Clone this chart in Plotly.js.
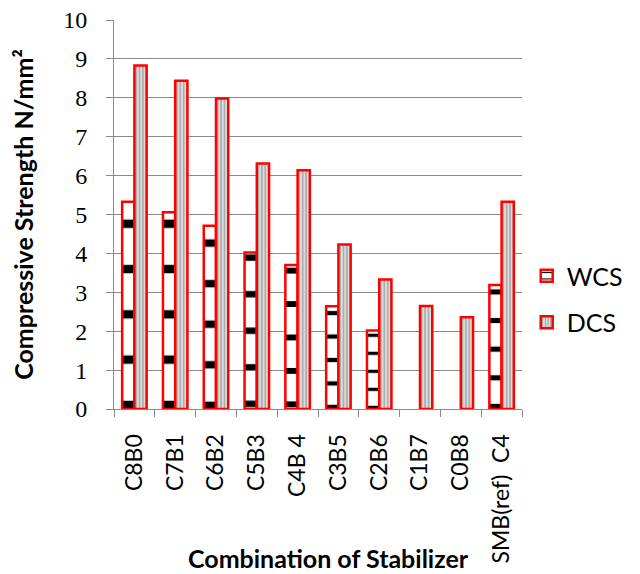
<!DOCTYPE html>
<html>
<head>
<meta charset="utf-8">
<script src="https://cdn.plot.ly/plotly-3.0.1.min.js"></script>
<style>
  html, body { margin: 0; padding: 0; background: #ffffff; }
  #chart { width: 640px; height: 574px; }
</style>
</head>
<body>
<div id="chart"></div>
<script>
// Compressive strength of stabilised blocks, wet (WCS) and dry (DCS)
const categories = ['C8B0', 'C7B1', 'C6B2', 'C5B3', 'C4B 4', 'C3B5', 'C2B6', 'C1B7', 'C0B8', 'SMB(ref)\u00a0 C4'];
const wcsValues = [5.33, 5.06, 4.71, 4.02, 3.70, 2.64, 2.02, null, null, 3.19];
const dcsValues = [8.83, 8.44, 7.98, 6.31, 6.14, 4.23, 3.33, 2.65, 2.36, 5.33];
const seriesNames = ['WCS', 'DCS'];
const yTicks = [0, 1, 2, 3, 4, 5, 6, 7, 8, 9, 10];

const W = 640, H = 574;
const margin = { l: 114, r: 93, t: 20, b: 165, pad: 0 };
const plotW = W - margin.l - margin.r;
const plotH = H - margin.t - margin.b;
const yMax = 10;

const RED = '#ff0000';
const GRID = '#8a8a8a';
const SANS = 'Lato, "Open Sans", sans-serif';
const SERIF = '"Liberation Serif", "Times New Roman", serif';

// Horizontal stripe fill for the WCS bars: about five dashes per bar,
// spaced in proportion to the bar height, first dash resting on the base.
const SOL = 0.18;
function stripeSize(v) {
  if (v == null) return 10;
  const h = v / yMax * plotH;
  const target = h * 0.232;
  let best = target, bestErr = Infinity;
  for (let k = 1; k < 90; k++) {
    for (const f of [0, 0.05, 0.1, 0.15, 0.2, 0.25, 0.3]) {
      const s = plotH / (k + 0.5 + SOL / 2 + f);
      const t = SOL * s;
      const d0 = plotH - (k + 0.5) * s;
      const top = d0 + 4 * s + t / 2;
      if (top > h - 1) continue;
      const err = Math.abs(s - target);
      if (err < bestErr) { bestErr = err; best = s; }
    }
  }
  return best;
}

const traces = [
  {
    type: 'bar',
    name: seriesNames[0],
    x: categories,
    y: wcsValues,
    legendgroup: 'a',
    marker: {
      color: '#ffffff',
      line: { color: RED, width: 2.5 },
      pattern: {
        shape: '-',
        fgcolor: '#000000',
        bgcolor: '#ffffff',
        fillmode: 'replace',
        size: wcsValues.map(stripeSize),
        solidity: SOL
      }
    },
    hoverinfo: 'x+y+name'
  },
  {
    type: 'bar',
    name: seriesNames[1],
    x: categories,
    y: dcsValues,
    legendgroup: 'b',
    marker: {
      color: '#dadada',
      line: { color: RED, width: 2.5 },
      pattern: {
        shape: '|',
        fgcolor: '#9a9a9a',
        bgcolor: '#dcdcdc',
        fillmode: 'replace',
        size: 3.4,
        solidity: 0.35
      }
    },
    hoverinfo: 'x+y+name'
  }
];

const layout = {
  width: W,
  height: H,
  margin: margin,
  paper_bgcolor: '#ffffff',
  plot_bgcolor: '#ffffff',
  barmode: 'group',
  bargap: 0.4,
  bargroupgap: 0,
  showlegend: true,
  legend: {
    x: 1.0 + 5 / plotW,
    xanchor: 'left',
    y: (plotH - (299 - margin.t)) / plotH,
    yanchor: 'middle',
    traceorder: 'grouped',
    tracegroupgap: 11,
    itemwidth: 30,
    entrywidth: 40,
    entrywidthmode: 'pixels',
    font: { family: SANS, size: 25, color: '#000000' },
    bgcolor: 'rgba(0,0,0,0)',
    borderwidth: 0
  },
  xaxis: {
    type: 'category',
    tickson: 'boundaries',
    ticks: 'outside',
    ticklen: 7,
    tickwidth: 1,
    tickcolor: GRID,
    tickangle: -90,
    ticklabelstandoff: 15,
    tickfont: { family: SANS, size: 23, color: '#000000' },
    showline: true,
    linecolor: GRID,
    linewidth: 1,
    showgrid: false,
    zeroline: false,
    automargin: false,
    fixedrange: true
  },
  yaxis: {
    range: [0, yMax],
    tickvals: yTicks,
    ticktext: yTicks.map(String),
    ticks: 'outside',
    ticklen: 7,
    tickwidth: 1,
    tickcolor: GRID,
    ticklabelstandoff: 14,
    tickfont: { family: SERIF, size: 24, color: '#000000' },
    showline: true,
    linecolor: GRID,
    linewidth: 1,
    showgrid: true,
    gridcolor: GRID,
    gridwidth: 1,
    zeroline: false,
    automargin: false,
    fixedrange: true,
    title: {
      text: 'Compressive Strength N/mm²',
      font: { family: SANS, size: 25, color: '#000000', weight: 'bold' },
      standoff: 22
    }
  },
  annotations: [
    {
      text: 'Combination of Stabilizer',
      xref: 'paper', yref: 'paper',
      x: 0.5, xanchor: 'center', xshift: 10,
      y: -(558 - margin.t - plotH) / plotH, yanchor: 'middle',
      showarrow: false,
      font: { family: SANS, size: 25, color: '#000000', weight: 'bold' }
    }
  ]
};

Plotly.newPlot('chart', traces, layout, { displayModeBar: false, staticPlot: true });
</script>
</body>
</html>
